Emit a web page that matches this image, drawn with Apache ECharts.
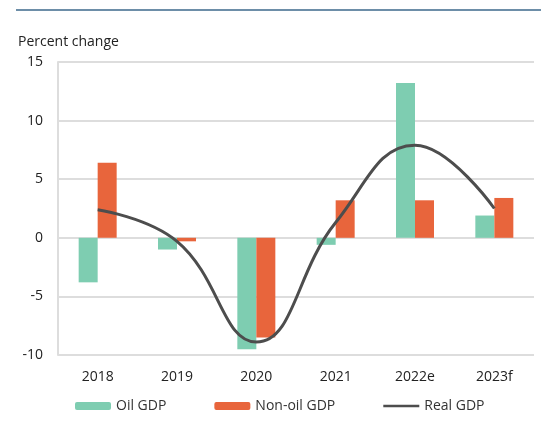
<!DOCTYPE html>
<html>
<head>
<meta charset="utf-8">
<script src="https://cdn.jsdelivr.net/npm/echarts@6/dist/echarts.min.js"></script>
<style>
html,body{margin:0;padding:0;background:#fff;}
#c{width:541px;height:423px;}
</style>
</head>
<body>
<div id="c"></div>
<script>
var categories = ['2018', '2019', '2020', '2021', '2022e', '2023f'];
var oilGDP = [-3.8, -1.0, -9.5, -0.6, 13.2, 1.9];
var nonOilGDP = [6.4, -0.3, -8.5, 3.2, 3.2, 3.4];
var realGDP = [2.4, -0.3, -8.9, 1.3, 7.9, 2.5];
var yTicks = { min: -10, max: 15, interval: 5 };

var chart = echarts.init(document.getElementById('c'));
chart.setOption({
  animation: false,
  graphic: [
    { type: 'line', shape: { x1: 16, y1: 10, x2: 541, y2: 10 }, style: { stroke: '#6d8ea8', lineWidth: 2 } },
    { type: 'text', left: 18, top: 35, style: { text: 'Percent change', fontSize: 14, fill: '#222', fontFamily: 'Open Sans' } }
  ],
  grid: { left: 58, right: 7, top: 62, bottom: 68 },
  legend: {
    left: 70, bottom: 5, itemWidth: 36, itemHeight: 8, itemGap: 48,
    textStyle: { fontSize: 14, color: '#333', fontFamily: 'Open Sans' },
    data: [
      { name: 'Oil GDP' },
      { name: 'Non-oil GDP' },
      { name: 'Real GDP', icon: 'path://M0,0 L40,0 L40,3 L0,3 Z' }
    ]
  },
  xAxis: {
    type: 'category', data: categories,
    axisLine: { show: false }, axisTick: { show: false },
    axisLabel: { fontSize: 14, color: '#222', margin: 15, fontFamily: 'Open Sans' }
  },
  yAxis: {
    type: 'value', min: yTicks.min, max: yTicks.max, interval: yTicks.interval,
    axisLine: { show: true, lineStyle: { color: '#ddd', width: 2 } },
    axisTick: { show: false },
    splitLine: { lineStyle: { color: '#ddd', width: 2 } },
    axisLabel: { fontSize: 14, color: '#222', margin: 15, fontFamily: 'Open Sans' }
  },
  series: [
    { name: 'Oil GDP', type: 'bar', data: oilGDP, barWidth: 19, barGap: '0%', itemStyle: { color: '#7ecdb1' } },
    { name: 'Non-oil GDP', type: 'bar', data: nonOilGDP, barWidth: 19, barGap: '0%', itemStyle: { color: '#e8653c' } },
    { name: 'Real GDP', type: 'line', data: realGDP, smooth: 0.45, symbol: 'none', lineStyle: { color: '#4d4d4d', width: 3 }, itemStyle: { color: '#4d4d4d' } }
  ]
});
</script>
</body>
</html>
